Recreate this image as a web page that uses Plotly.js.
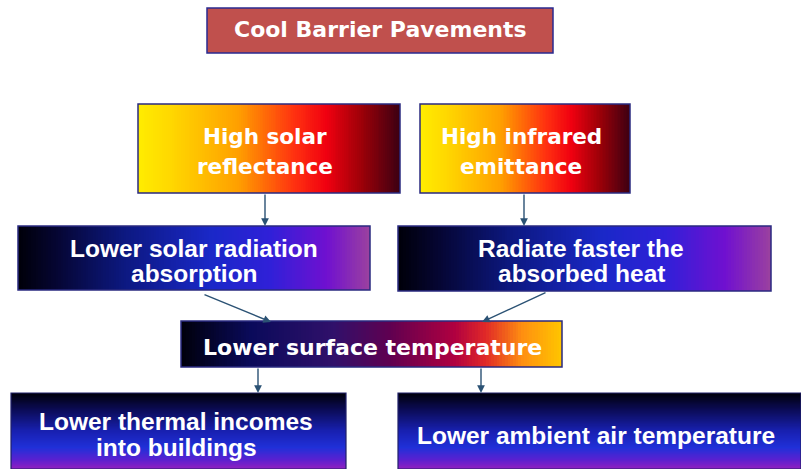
<!DOCTYPE html>
<html>
<head>
<meta charset="utf-8">
<script src="https://cdn.plot.ly/plotly-3.0.1.min.js"></script>
<style>html,body{margin:0;padding:0;background:#fff;}#chart{width:801px;height:469px;}</style>
</head>
<body>
<div id="chart"></div>
<script>
// ---- content ----
const nodeLabels = [
  'Cool Barrier Pavements',
  'High solar<br>reflectance',
  'High infrared<br>emittance',
  'Lower solar radiation<br>absorption',
  'Radiate faster the<br>absorbed heat',
  'Lower surface temperature',
  'Lower thermal incomes<br>into buildings',
  'Lower ambient air temperature'
];
// links between nodes (from index, to index)
const linkFrom = [1, 2, 3, 4, 5, 5];
const linkTo   = [3, 4, 5, 5, 6, 7];

// ---- layout (pixel positions) ----
const nodeBox = [
  [207, 8, 553, 53],
  [138, 104, 400, 193],
  [420, 104, 630, 193],
  [18, 226, 370, 290],
  [398, 226, 771, 291],
  [181, 321, 562, 367],
  [11, 393, 346, 469],
  [398, 393, 801, 469]
];
const textCenter = [[380, 29], [265, 151], [521, 151], [194, 261], [581, 261], [372, 347], [176, 434], [596, 435]];
const lineGap = [0, 30, 30, 25, 25, 0, 26, 0];
const fontFam = ['DejaVu Sans', 'DejaVu Sans', 'DejaVu Sans', 'Liberation Sans', 'Liberation Sans', 'DejaVu Sans', 'Liberation Sans', 'Liberation Sans'];
const fontSize = [22, 21.5, 21.5, 24.5, 24.5, 22, 24.5, 24.5];
const gradKind = ['solid', 'fire', 'fire', 'blue', 'blue', 'surface', 'vblue', 'vblue'];
const linkPts = [
  [[265, 193], [265, 226]],
  [[524, 193], [524, 226]],
  [[203, 294], [271, 322]],
  [[547, 292], [482, 322]],
  [[258, 367], [258, 393]],
  [[481, 367], [481, 393]]
];

const scales = {
  fire: [[0, '#FFEC00'], [0.12, '#FFD800'], [0.38, '#FFA000'], [0.6, '#FF3010'], [0.72, '#F00010'], [0.86, '#9A0008'], [1, '#3E0012']],
  blue: [[0, '#00000A'], [0.1, '#050530'], [0.3, '#0C1880'], [0.55, '#1A28C8'], [0.72, '#3020D8'], [0.88, '#7010D0'], [1, '#9A40A0']],
  surface: [[0, '#00000C'], [0.18, '#0A0A5A'], [0.4, '#30106A'], [0.55, '#600050'], [0.72, '#B00040'], [0.8, '#E02828'], [0.9, '#FF9010'], [1, '#FFC400']],
  vblue: [[0, '#00000A'], [0.2, '#0A0A50'], [0.5, '#1820B0'], [0.72, '#2030D8'], [0.88, '#5A20D0'], [1, '#9020C0']]
};

const N = 140;
const ramp = [];
for (let i = 0; i < N; i++) ramp.push(i / (N - 1));

const traces = [];
const shapes = [];
const annotations = [];

nodeBox.forEach((b, i) => {
  const [x0, y0, x1, y1] = b;
  const kind = gradKind[i];
  if (kind === 'solid') {
    shapes.push({type: 'rect', xref: 'x', yref: 'y', x0, y0, x1, y1, fillcolor: '#C0504D', line: {color: '#2A2A90', width: 1.5}, layer: 'below'});
  } else if (kind === 'vblue') {
    traces.push({type: 'heatmap', z: ramp.map(v => [v]), x0: (x0 + x1) / 2, dx: x1 - x0, y0: y0 + (y1 - y0) / (2 * N), dy: (y1 - y0) / N,
      colorscale: scales[kind], zmin: 0, zmax: 1, showscale: false, hoverinfo: 'skip', zsmooth: false});
    shapes.push({type: 'rect', xref: 'x', yref: 'y', x0, y0, x1, y1, fillcolor: 'rgba(0,0,0,0)', line: {color: '#20206A', width: 1.2}});
  } else {
    traces.push({type: 'heatmap', z: [ramp], x0: x0 + (x1 - x0) / (2 * N), dx: (x1 - x0) / N, y0: (y0 + y1) / 2, dy: y1 - y0,
      colorscale: scales[kind], zmin: 0, zmax: 1, showscale: false, hoverinfo: 'skip', zsmooth: false});
    shapes.push({type: 'rect', xref: 'x', yref: 'y', x0, y0, x1, y1, fillcolor: 'rgba(0,0,0,0)', line: {color: '#2A2A80', width: 1.5}});
  }
  const lines = nodeLabels[i].split('<br>');
  const [cx, cy] = textCenter[i];
  lines.forEach((t, k) => {
    const yy = cy + (k - (lines.length - 1) / 2) * lineGap[i];
    annotations.push({x: cx, y: yy, xref: 'x', yref: 'y', text: '<b>' + t + '</b>', showarrow: false,
      font: {family: fontFam[i], size: fontSize[i], color: '#FFFFFF'}, xanchor: 'center', yanchor: 'middle'});
  });
});

linkFrom.forEach((f, j) => {
  const [[ax, ay], [x, y]] = linkPts[j];
  annotations.push({x, y, ax, ay, xref: 'x', yref: 'y', axref: 'x', ayref: 'y', text: '', showarrow: true,
    arrowhead: 2, arrowsize: 1.1, arrowwidth: 1.4, arrowcolor: '#2B5274', standoff: 0, startstandoff: 0});
});

const layout = {
  width: 801, height: 469,
  margin: {l: 0, r: 0, t: 0, b: 0},
  paper_bgcolor: '#FFFFFF', plot_bgcolor: '#FFFFFF',
  xaxis: {range: [0, 801], visible: false, fixedrange: true},
  yaxis: {range: [469, 0], visible: false, fixedrange: true},
  shapes, annotations, showlegend: false
};

Plotly.newPlot('chart', traces, layout, {displayModeBar: false, staticPlot: true});
</script>
</body>
</html>
